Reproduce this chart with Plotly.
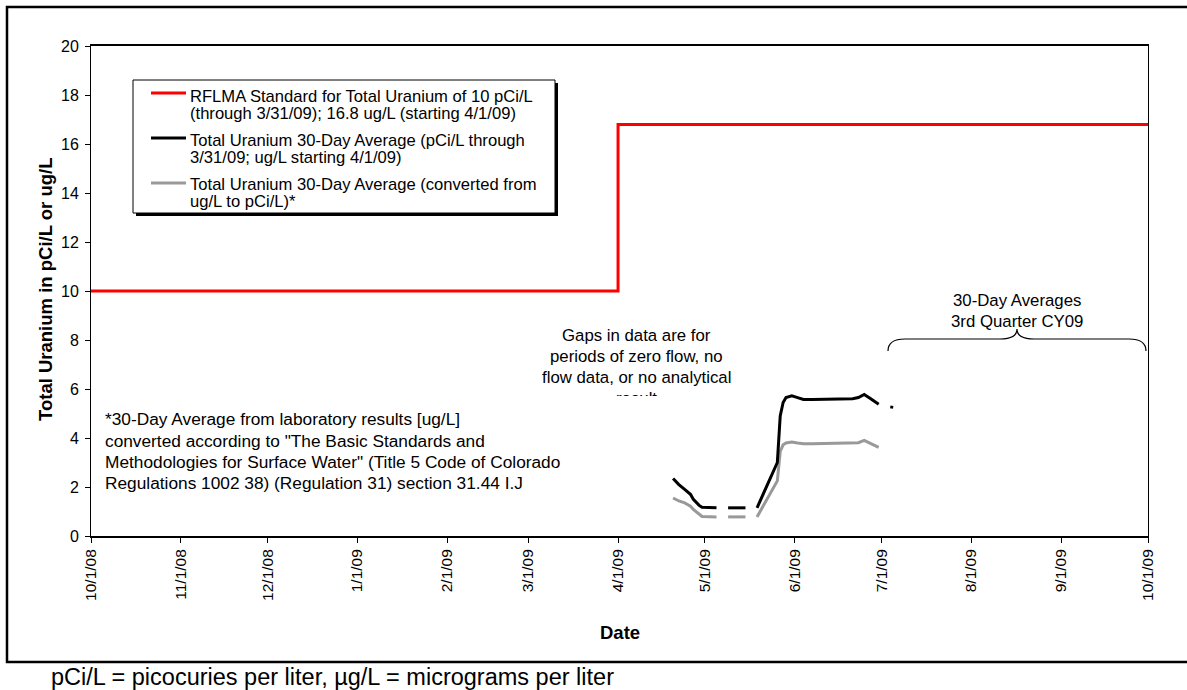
import plotly.graph_objects as go

# ---------------- data ----------------
std_dates = ["2008-10-01", "2009-04-01", "2009-04-01", "2009-10-01"]
std_values = [10, 10, 16.8, 16.8]

avg_dates = ["2009-04-20", "2009-04-22", "2009-04-24", "2009-04-26", "2009-04-27", "2009-04-29",
             "2009-04-30", "2009-05-05", "2009-05-07", "2009-05-09", "2009-05-15", "2009-05-17",
             "2009-05-19", "2009-05-21", "2009-05-23", "2009-05-25", "2009-05-26", "2009-05-27",
             "2009-05-28", "2009-05-29", "2009-05-31", "2009-06-02", "2009-06-04", "2009-06-07",
             "2009-06-12", "2009-06-17", "2009-06-21", "2009-06-23", "2009-06-25", "2009-06-27",
             "2009-06-30", "2009-07-02", "2009-07-04", "2009-07-05"]
avg_values = [2.35, 2.1, 1.9, 1.7, 1.5, 1.25,
              1.17, 1.15, None, 1.15, 1.15, None,
              1.15, 1.68, 2.2, 2.72, 3.0, 4.9,
              5.45, 5.65, 5.72, 5.65, 5.57, 5.57,
              5.58, 5.58, 5.6, 5.65, 5.78, 5.62,
              5.38, None, 5.27, 5.25]
conv_values = [1.55, 1.43, 1.35, 1.22, 1.08, 0.9,
               0.8, 0.78, None, 0.78, 0.78, None,
               0.78, 1.2, 1.65, 2.05, 2.25, 3.45,
               3.72, 3.8, 3.84, 3.8, 3.77, 3.77,
               3.78, 3.78, 3.79, 3.81, 3.9, 3.8,
               3.62, None, None, None]

tick_dates = ["2008-10-01", "2008-11-01", "2008-12-01", "2009-01-01", "2009-02-01", "2009-03-01",
              "2009-04-01", "2009-05-01", "2009-06-01", "2009-07-01", "2009-08-01", "2009-09-01",
              "2009-10-01"]
tick_labels = ["10/1/08", "11/1/08", "12/1/08", "1/1/09", "2/1/09", "3/1/09", "4/1/09", "5/1/09",
               "6/1/09", "7/1/09", "8/1/09", "9/1/09", "10/1/09"]

legend_lines = [
    ["RFLMA Standard for Total Uranium of 10 pCi/L", "(through 3/31/09); 16.8 ug/L (starting 4/1/09)"],
    ["Total Uranium 30-Day Average (pCi/L through", "3/31/09; ug/L starting 4/1/09)"],
    ["Total Uranium 30-Day Average (converted from", "ug/L to pCi/L)*"],
]
legend_colors = ["#ff0000", "#000000", "#999999"]

gaps_note = ["Gaps in data are for", "periods of zero flow, no", "flow data, or no analytical", "result"]
foot_note = ["*30-Day Average from laboratory results [ug/L]",
             "converted according to \"The Basic Standards and",
             "Methodologies for Surface Water\" (Title 5 Code of Colorado",
             "Regulations 1002 38) (Regulation 31) section 31.44 I.J"]
quarter_note = ["30-Day Averages", "3rd Quarter CY09"]
caption = "pCi/L = picocuries per liter, µg/L = micrograms per liter"

# ---------------- layout geometry (pixels) ----------------
WIDTH, HEIGHT = 1187, 690
L, R, T, B = 91, 1148, 46, 536
PW, PH = R - L, B - T


def px(x):
    return (x - L) / PW


def py(y):
    return (B - y) / PH


FONT = "Liberation Sans, Arial, Helvetica, sans-serif"

fig = go.Figure()
fig.add_trace(go.Scatter(x=std_dates, y=std_values, mode="lines",
                         line=dict(color=legend_colors[0], width=3), showlegend=False))
fig.add_trace(go.Scatter(x=avg_dates, y=conv_values, mode="lines", connectgaps=False,
                         line=dict(color=legend_colors[2], width=3), showlegend=False))
fig.add_trace(go.Scatter(x=avg_dates, y=avg_values, mode="lines", connectgaps=False,
                         line=dict(color=legend_colors[1], width=3), showlegend=False))

shapes = []
annotations = []

# outer frame
shapes.append(dict(type="rect", xref="paper", yref="paper", x0=px(7), x1=px(1195), y0=py(7), y1=py(662),
                   line=dict(color="black", width=2.5), fillcolor="rgba(0,0,0,0)", layer="below"))

# legend box with shadow
shapes.append(dict(type="rect", xref="paper", yref="paper", x0=px(136), x1=px(558), y0=py(83), y1=py(216),
                   line=dict(width=0), fillcolor="black", layer="above"))
shapes.append(dict(type="rect", xref="paper", yref="paper", x0=px(133), x1=px(555), y0=py(80), y1=py(213),
                   line=dict(color="black", width=1), fillcolor="white", layer="above"))
entry_y = [(93, 96.5, 113.5), (138, 140, 157), (183, 184.5, 201.5)]
for (ly, t1, t2), lines, col in zip(entry_y, legend_lines, legend_colors):
    shapes.append(dict(type="line", xref="paper", yref="paper", x0=px(151), x1=px(186), y0=py(ly), y1=py(ly),
                       line=dict(color=col, width=3), layer="above"))
    for txt, ty in zip(lines, (t1, t2)):
        annotations.append(dict(text=txt, xref="paper", yref="paper", x=px(188), y=py(ty),
                                xanchor="left", yanchor="middle", showarrow=False,
                                font=dict(size=16.6, color="black", family=FONT)))

# brace over 3rd quarter
pts = [(888, 351), (888, 339), (905, 339), (1000, 339), (1017, 339), (1017, 329),
       (1017, 339), (1034, 339), (1129, 339), (1146, 339), (1146, 351)]
p = [(px(a), py(b)) for a, b in pts]
path = ("M {0[0]},{0[1]} Q {1[0]},{1[1]} {2[0]},{2[1]} L {3[0]},{3[1]} Q {4[0]},{4[1]} {5[0]},{5[1]} "
        "Q {6[0]},{6[1]} {7[0]},{7[1]} L {8[0]},{8[1]} Q {9[0]},{9[1]} {10[0]},{10[1]}").format(*p)
shapes.append(dict(type="path", xref="paper", yref="paper", path=path,
                   line=dict(color="black", width=1.2), layer="above"))

# quarter note
for txt, ty in zip(quarter_note, (300, 321)):
    annotations.append(dict(text=txt, xref="paper", yref="paper", x=px(1017), y=py(ty),
                            xanchor="center", yanchor="middle", showarrow=False,
                            font=dict(size=16.8, color="black", family=FONT)))

# gaps note (last line clipped)
for txt, ty in zip(gaps_note, (335, 356, 377, 398)):
    annotations.append(dict(text=txt, xref="paper", yref="paper", x=px(636), y=py(ty),
                            xanchor="center", yanchor="middle", showarrow=False,
                            font=dict(size=16.8, color="black", family=FONT)))
annotations.append(dict(text="", xref="paper", yref="paper", x=px(636), y=py(395.5),
                        xanchor="center", yanchor="top", showarrow=False, width=80, height=22,
                        bgcolor="white", borderpad=0, borderwidth=0))

# footnote
for txt, ty in zip(foot_note, (419, 441, 462, 483)):
    annotations.append(dict(text=txt, xref="paper", yref="paper", x=px(103), y=py(ty),
                            xanchor="left", yanchor="middle", showarrow=False,
                            font=dict(size=17.3, color="black", family=FONT)))

# caption
annotations.append(dict(text=caption, xref="paper", yref="paper", x=px(49), y=py(677),
                        xanchor="left", yanchor="middle", showarrow=False,
                        font=dict(size=23.5, color="black", family=FONT)))

# axis titles
annotations.append(dict(text="<b>Total Uranium in pCi/L or ug/L</b>", xref="paper", yref="paper",
                        x=px(45), y=py(290), xanchor="center", yanchor="middle", showarrow=False,
                        textangle=-90, font=dict(size=18.5, color="black", family=FONT)))
annotations.append(dict(text="<b>Date</b>", xref="paper", yref="paper", x=px(620), y=py(632),
                        xanchor="center", yanchor="middle", showarrow=False,
                        font=dict(size=18.5, color="black", family=FONT)))

fig.update_layout(
    width=WIDTH, height=HEIGHT,
    margin=dict(l=L, r=WIDTH - R, t=T, b=HEIGHT - B, pad=0),
    paper_bgcolor="white", plot_bgcolor="white",
    showlegend=False,
    font=dict(family=FONT, size=15, color="black"),
    shapes=shapes, annotations=annotations,
    xaxis=dict(type="date", range=["2008-10-01", "2009-10-01"], tickmode="array",
               tickvals=tick_dates, ticktext=tick_labels, tickangle=-90,
               ticks="outside", ticklen=5, tickwidth=1, tickcolor="black",
               showline=True, linecolor="black", linewidth=2, mirror=True,
               showgrid=False, zeroline=False, tickfont=dict(size=15.5)),
    yaxis=dict(range=[0, 20], dtick=2, tick0=0,
               ticks="outside", ticklen=5, tickwidth=1, tickcolor="black",
               ticklabelstandoff=3,
               showline=True, linecolor="black", linewidth=1, mirror=True,
               showgrid=False, zeroline=False, tickfont=dict(size=16)),
)

fig.write_html("out.html", config={"displayModeBar": False},
               post_script="document.body.style.margin='0px';")
